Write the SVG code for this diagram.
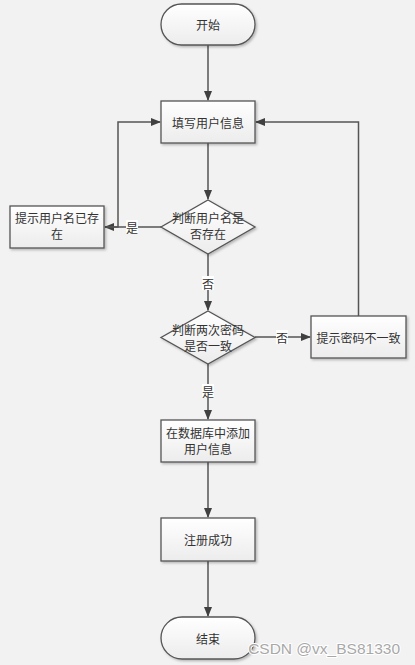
<svg xmlns="http://www.w3.org/2000/svg" width="415" height="665" viewBox="0 0 415 665">
<style>
.shape{fill:url(#g);stroke:#555;stroke-width:1.3}
.t{font-family:"Noto Sans CJK SC","Noto Sans",sans-serif;font-size:12px;fill:#333;text-anchor:middle;dominant-baseline:central}
.c{fill:none;stroke:#555;stroke-width:1.5}
.lb{fill:#fff}
</style>
<defs>
<linearGradient id="g" x1="0" y1="0" x2="0" y2="1">
<stop offset="0" stop-color="#ffffff"/>
<stop offset="1" stop-color="#ececec"/>
</linearGradient>
<marker id="a" markerWidth="10" markerHeight="10" refX="9" refY="5" orient="auto" markerUnits="userSpaceOnUse">
<path d="M0,1 L10,5 L0,9 Z" fill="#404040"/>
</marker>
<filter id="s" x="-10%" y="-10%" width="130%" height="130%">
<feDropShadow dx="1.5" dy="1.5" stdDeviation="0.8" flood-color="#000" flood-opacity="0.25"/>
</filter>
</defs>
<rect width="415" height="665" fill="#f2f2f2"/>
<g id="connectors">
<path class="c" d="M208,45 L208,100" marker-end="url(#a)"/>
<path class="c" d="M208,143 L208,199" marker-end="url(#a)"/>
<path class="c" d="M161,227 L105,227" marker-end="url(#a)"/>
<path class="c" d="M105,227 L118,227 L118,122 L160,122" marker-end="url(#a)"/>
<path class="c" d="M208,254 L208,310" marker-end="url(#a)"/>
<path class="c" d="M255,337 L310,337" marker-end="url(#a)"/>
<path class="c" d="M358.5,316 L358.5,122 L256,122" marker-end="url(#a)"/>
<path class="c" d="M208,364 L208,419" marker-end="url(#a)"/>
<path class="c" d="M208,462 L208,517" marker-end="url(#a)"/>
<path class="c" d="M208,561 L208,616" marker-end="url(#a)"/>
<rect class="lb" x="126" y="220" width="12" height="14"/>
<text class="t" x="132" y="227">是</text>
<rect class="lb" x="202" y="276" width="12" height="14"/>
<text class="t" x="208" y="283">否</text>
<rect class="lb" x="276" y="330" width="12" height="14"/>
<text class="t" x="282" y="337">否</text>
<rect class="lb" x="202" y="384" width="12" height="14"/>
<text class="t" x="208" y="391">是</text>
</g>
<g id="start">
<rect class="shape" filter="url(#s)" x="161" y="4" width="94" height="41" rx="20.5"/>
<text class="t" x="208" y="24.5">开始</text>
</g>
<g id="fill">
<rect class="shape" filter="url(#s)" x="161" y="101" width="94" height="42"/>
<text class="t" x="208" y="122">填写用户信息</text>
</g>
<g id="check-user">
<path class="shape" filter="url(#s)" d="M208,200 L255,227 L208,254 L161,227 Z"/>
<text class="t" x="208" y="217">判断用户名是</text>
<text class="t" x="208" y="233">否存在</text>
</g>
<g id="user-exists">
<rect class="shape" filter="url(#s)" x="10" y="206" width="94" height="42"/>
<text class="t" x="57" y="217">提示用户名已存</text>
<text class="t" x="57" y="233">在</text>
</g>
<g id="check-pwd">
<path class="shape" filter="url(#s)" d="M208,311 L255,337.5 L208,364 L161,337.5 Z"/>
<text class="t" x="208" y="329">判断两次密码</text>
<text class="t" x="208" y="345">是否一致</text>
</g>
<g id="pwd-mismatch">
<rect class="shape" filter="url(#s)" x="311" y="316" width="95" height="42"/>
<text class="t" x="358.5" y="337">提示密码不一致</text>
</g>
<g id="add-db">
<rect class="shape" filter="url(#s)" x="161" y="420" width="94" height="42"/>
<text class="t" x="208" y="432">在数据库中添加</text>
<text class="t" x="208" y="448">用户信息</text>
</g>
<g id="success">
<rect class="shape" filter="url(#s)" x="161" y="518" width="94" height="43"/>
<text class="t" x="208" y="539.5">注册成功</text>
</g>
<g id="end">
<rect class="shape" filter="url(#s)" x="161" y="617" width="94" height="42" rx="21"/>
<text class="t" x="208" y="638">结束</text>
</g>
<text x="400" y="654" text-anchor="end" font-family="Liberation Sans, sans-serif" font-size="15.5" fill="#a8a8a8" stroke="#ffffff" stroke-width="2" paint-order="stroke">CSDN @vx_BS81330</text>
</svg>
